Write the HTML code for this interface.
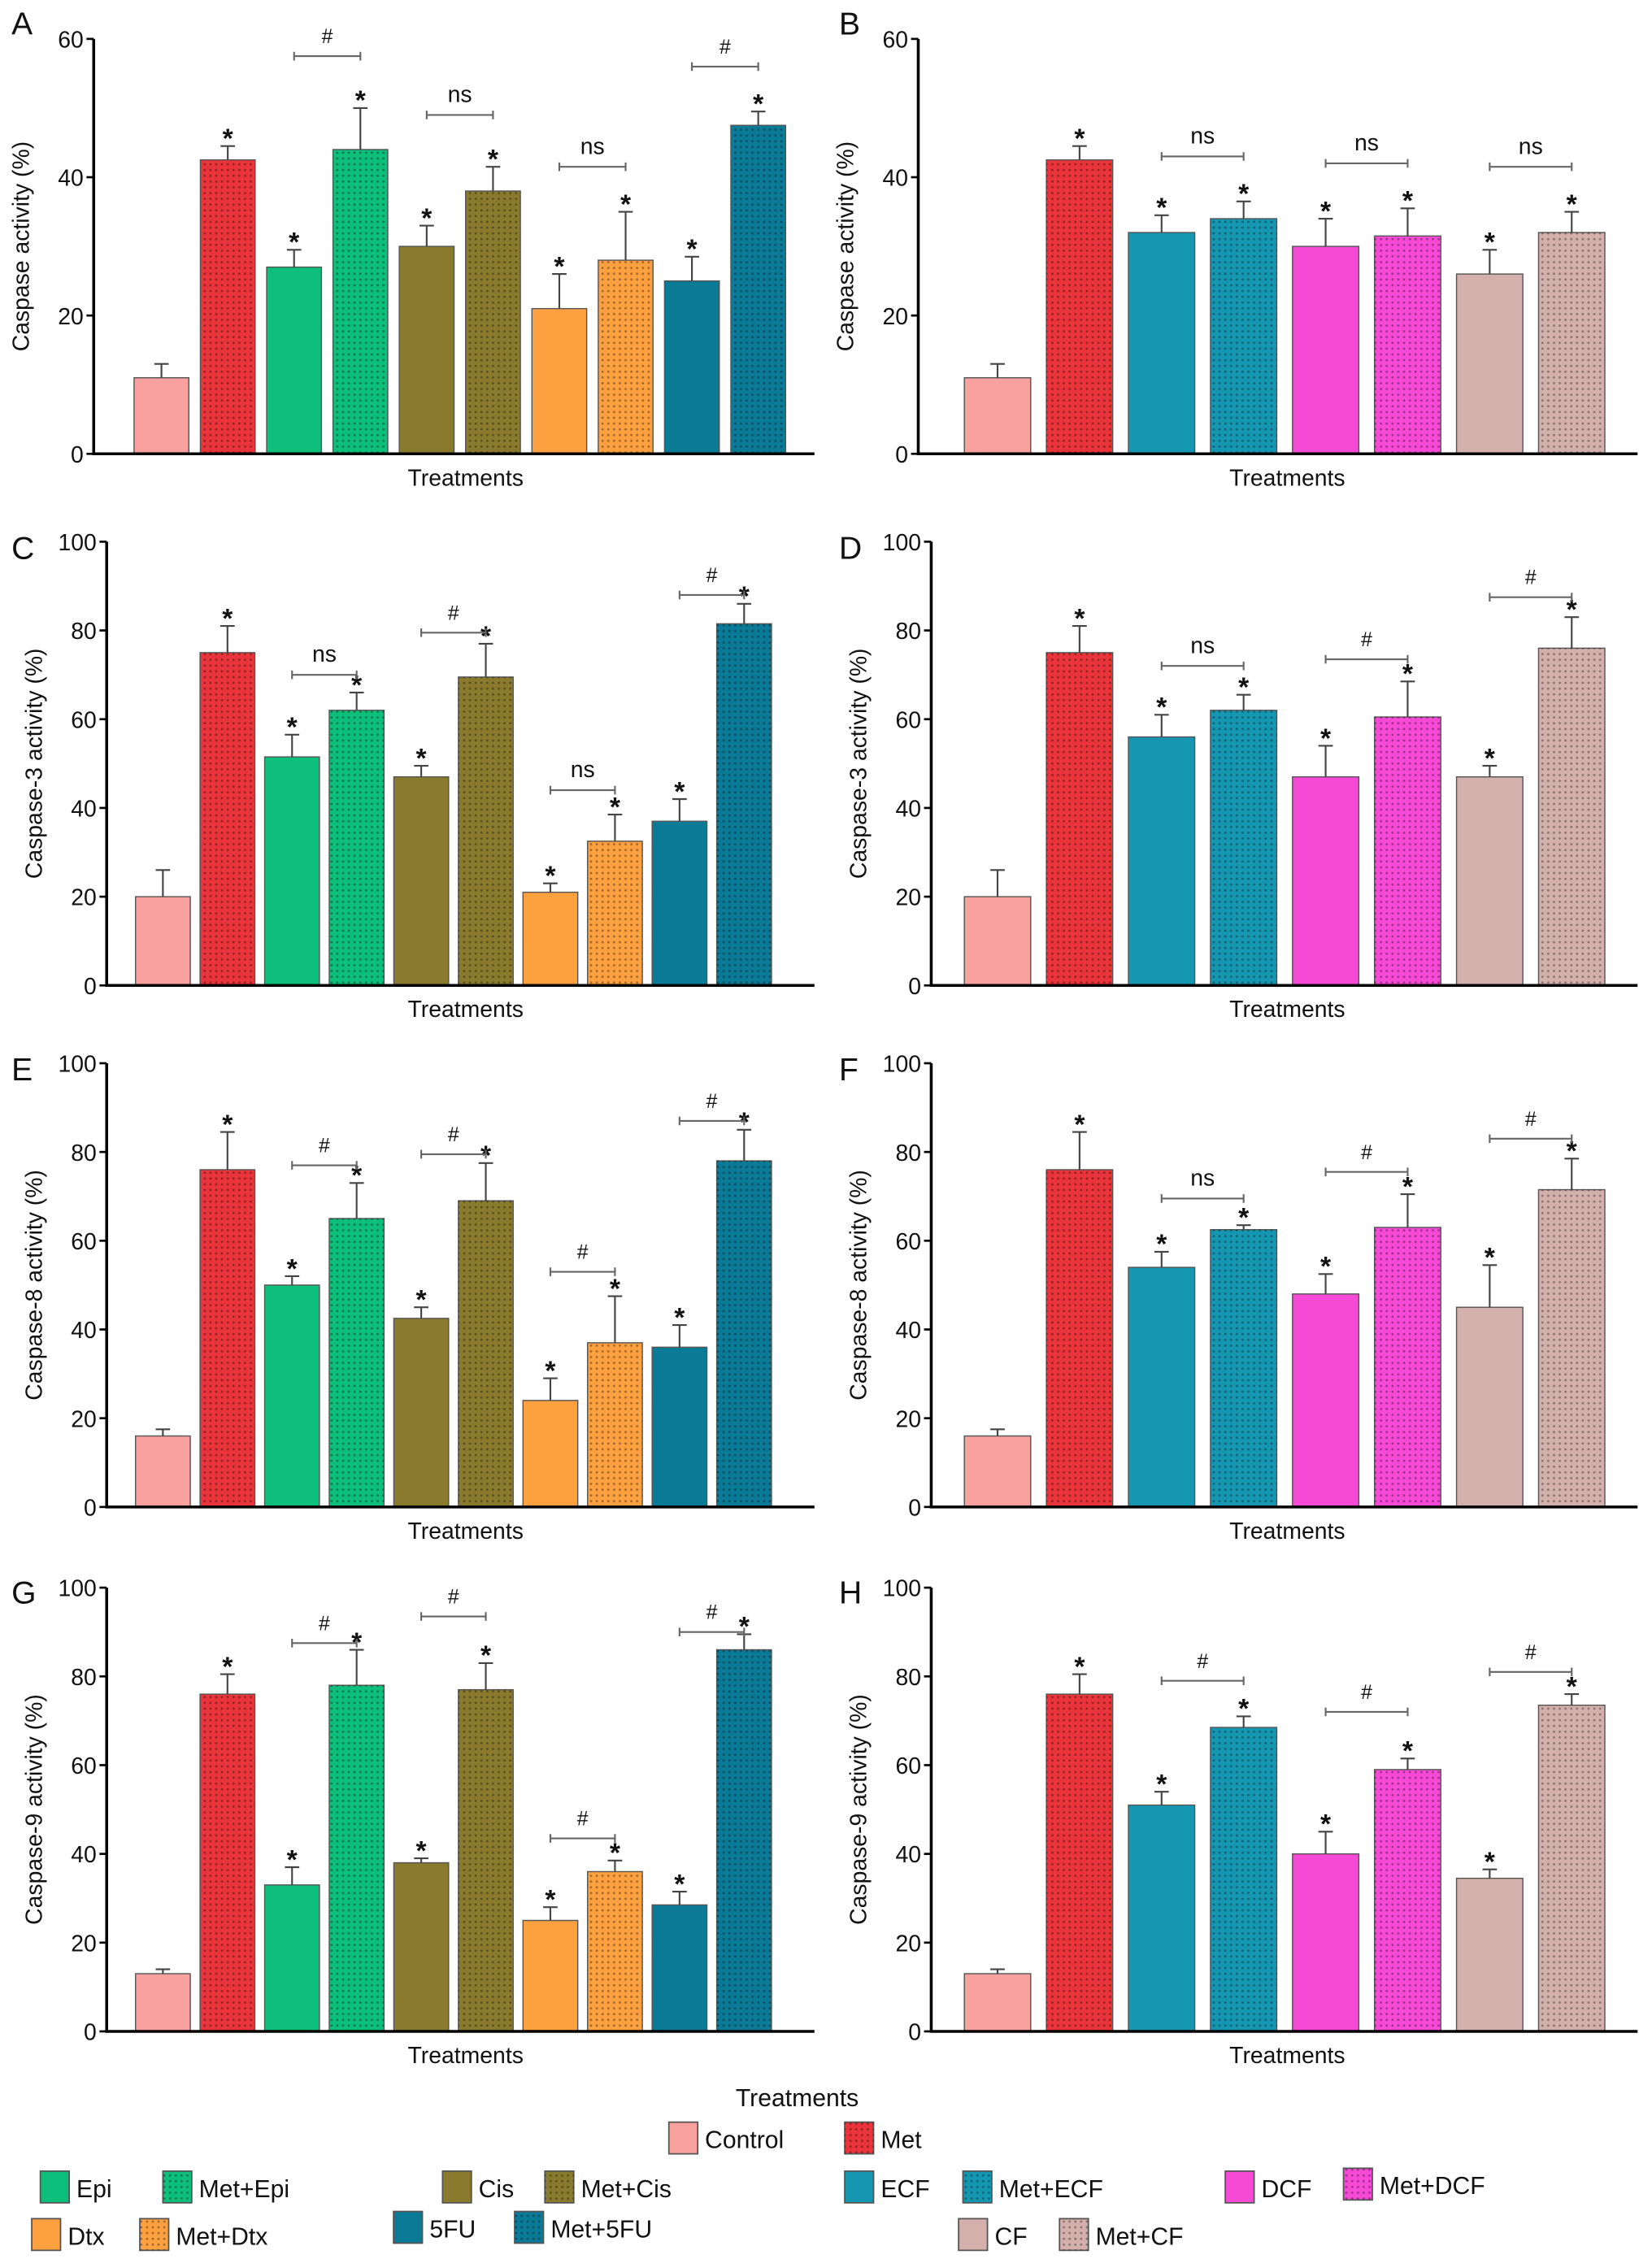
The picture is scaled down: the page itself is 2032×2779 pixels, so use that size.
<!DOCTYPE html>
<html><head><meta charset="utf-8">
<style>
html,body{margin:0;padding:0;background:#fff;}
svg{display:block;}
text{font-family:"Liberation Sans",sans-serif;fill:#111;}
</style></head>
<body>
<svg id="fig" width="2032" height="2779" viewBox="0 0 1146 1568" preserveAspectRatio="none" xmlns="http://www.w3.org/2000/svg">
<defs>
<pattern id="dots" width="4" height="4" patternUnits="userSpaceOnUse"><circle cx="2" cy="2" r="0.8" fill="rgba(0,0,0,0.35)"/></pattern>
</defs>
<g id="panels"></g>
<g id="legend"></g>
</svg>
<script>
const NS="http://www.w3.org/2000/svg";
// ---- data ----
const catsLeft=["Control","Met","Epi","Met+Epi","Cis","Met+Cis","Dtx","Met+Dtx","5FU","Met+5FU"];
const catsRight=["Control","Met","ECF","Met+ECF","DCF","Met+DCF","CF","Met+CF"];
const valsA=[11,42.5,27,44,30,38,21,28,25,47.5];
const errA=[13,44.5,29.5,50,33,41.5,26,35,28.5,49.5];
const valsB=[11,42.5,32,34,30,31.5,26,32];
const errB=[13,44.5,34.5,36.5,34,35.5,29.5,35];
const valsC=[20,75,51.5,62,47,69.5,21,32.5,37,81.5];
const errC=[26,81,56.5,66,49.5,77,23,38.5,42,86];
const valsD=[20,75,56,62,47,60.5,47,76];
const errD=[26,81,61,65.5,54,68.5,49.5,83];
const valsE=[16,76,50,65,42.5,69,24,37,36,78];
const errE=[17.5,84.5,52,73,45,77.5,29,47.5,41,85];
const valsF=[16,76,54,62.5,48,63,45,71.5];
const errF=[17.5,84.5,57.5,63.5,52.5,70.5,54.5,78.5];
const valsG=[13,76,33,78,38,77,25,36,28.5,86];
const errG=[14,80.5,37,86,39,83,28,38.5,31.5,89.5];
const valsH=[13,76,51,68.5,40,59,34.5,73.5];
const errH=[14,80.5,54,71,45,61.5,36.5,76];
const ticks60=[0,20,40,60];
const ticks100=[0,20,40,60,80,100];
// brackets: [fromIndex,toIndex,label,value]
const brA=[[2,3,"#",57.5],[4,5,"ns",49],[6,7,"ns",41.5],[8,9,"#",56]];
const brB=[[2,3,"ns",43],[4,5,"ns",42],[6,7,"ns",41.5]];
const brC=[[2,3,"ns",70],[4,5,"#",79.5],[6,7,"ns",44],[8,9,"#",88]];
const brD=[[2,3,"ns",72],[4,5,"#",73.5],[6,7,"#",87.5]];
const brE=[[2,3,"#",77],[4,5,"#",79.5],[6,7,"#",53],[8,9,"#",87]];
const brF=[[2,3,"ns",69.5],[4,5,"#",75.5],[6,7,"#",83]];
const brG=[[2,3,"#",87.5],[4,5,"#",93.5],[6,7,"#",43.5],[8,9,"#",90]];
const brH=[[2,3,"#",79],[4,5,"#",72],[6,7,"#",81]];
const stars=[false,true,true,true,true,true,true,true,true,true];

const colors={"Control":"#f9a19e","Met":"#e8343a","Epi":"#0dbf7a","Cis":"#8a7a2e","Dtx":"#fca040","5FU":"#0a7a96","ECF":"#1597b1","DCF":"#f64ad6","CF":"#d4b0ac"};
function col(c){return colors[c.replace("Met+","")]||colors[c];}
function dotted(c){return c==="Met"||c.startsWith("Met+");}

function el(tag,attrs,parent,txt){const e=document.createElementNS(NS,tag);for(const k in attrs)e.setAttribute(k,attrs[k]);if(txt!==undefined)e.textContent=txt;parent.appendChild(e);return e;}

const panelsG=document.getElementById('panels');
function panel(o){
  const g=el('g',{},panelsG);
  
  
  const yS=v=>o.y0-(v/o.max)*(o.y0-o.yTop);
  const xS=i=>o.c0+i*o.step;
  const L=el('text',{x:o.lx,y:o.ly,'font-size':22},g,o.letter);
  
  
  o.cats.forEach((c,i)=>{
    const x=xS(i)-o.bw/2,y=yS(o.vals[i]),h=o.y0-y;
    const bar=el('rect',{x:x,y:y,width:o.bw,height:h,fill:col(c),stroke:'#555','stroke-width':0.8},g);
    
    
    if(dotted(c)){el('rect',{x:x,y:y,width:o.bw,height:h,fill:'url(#dots)'},g);}
    const ye=yS(o.err[i]);
    const eb=el('path',{d:`M${xS(i)},${y}V${ye}M${xS(i)-5},${ye}H${xS(i)+5}`,stroke:'#444','stroke-width':1.2,fill:'none'},g);
    
    
    if(stars[i]){const s=el('text',{x:xS(i),y:ye+1,'font-size':19,'text-anchor':'middle','font-weight':'bold'},g,'*');
      
      }
  });
  o.br.forEach(b=>{
    const yb=yS(b[3]);const x1=xS(b[0]),x2=xS(b[1]);
    const p=el('path',{d:`M${x1},${yb-3}V${yb+3}M${x1},${yb}H${x2}M${x2},${yb-3}V${yb+3}`,stroke:'#666','stroke-width':1.2,fill:'none'},g);
    
    
    const t=el('text',{x:(x1+x2)/2,y:yb-9,'font-size':b[2]==='#'?14:16,'text-anchor':'middle'},g,b[2]);
    
    
  });
  const ax=el('path',{d:`M${o.ax},${o.yTop}V${o.y0}M${o.ax-1},${o.y0}H${o.xEnd}`,stroke:'#000','stroke-width':2,fill:'none'},g);
  
  
  o.ticks.forEach(t=>{
    el('path',{d:`M${o.ax-5},${yS(t)}H${o.ax}`,stroke:'#000','stroke-width':1.5},g);
    const tl=el('text',{x:o.ax-7,y:yS(t)+6,'font-size':16,'text-anchor':'end'},g,t);
    
    
  });
  const yt=el('text',{x:0,y:0,'font-size':16,'text-anchor':'middle',transform:`translate(${o.ax-45},${(o.y0+o.yTop)/2}) rotate(-90)`},g,o.ytitle);
  
  
  const xt=el('text',{x:o.xtx,y:o.y0+22,'font-size':16,'text-anchor':'middle'},g,'Treatments');
  
  
}
const L={cats:catsLeft,ax:67,c0:112,step:46,bw:38,xEnd:565,xtx:323};
const R={cats:catsRight,ax:639,c0:692,step:56.9,bw:46,xEnd:1136,xtx:893};
panel(Object.assign({},L,{letter:'A',lx:8,ly:24,vals:valsA,err:errA,br:brA,ticks:ticks60,max:60,y0:315,yTop:27,ytitle:'Caspase activity (%)',ax:65}));
panel(Object.assign({},R,{letter:'B',lx:582,ly:24,vals:valsB,err:errB,br:brB,ticks:ticks60,max:60,y0:315,yTop:27,ytitle:'Caspase activity (%)',ax:637}));
panel(Object.assign({},L,{letter:'C',lx:8,ly:388,vals:valsC,err:errC,br:brC,ticks:ticks100,max:100,y0:684,yTop:376,ytitle:'Caspase-3 activity (%)',c0:113,step:44.8,ax:74}));
panel(Object.assign({},R,{letter:'D',lx:582,ly:388,vals:valsD,err:errD,br:brD,ticks:ticks100,max:100,y0:684,yTop:376,ytitle:'Caspase-3 activity (%)',ax:646}));
panel(Object.assign({},L,{letter:'E',lx:8,ly:750,vals:valsE,err:errE,br:brE,ticks:ticks100,max:100,y0:1046,yTop:738,ytitle:'Caspase-8 activity (%)',c0:113,step:44.8,ax:74}));
panel(Object.assign({},R,{letter:'F',lx:582,ly:750,vals:valsF,err:errF,br:brF,ticks:ticks100,max:100,y0:1046,yTop:738,ytitle:'Caspase-8 activity (%)',ax:646}));
panel(Object.assign({},L,{letter:'G',lx:8,ly:1113,vals:valsG,err:errG,br:brG,ticks:ticks100,max:100,y0:1410,yTop:1102,ytitle:'Caspase-9 activity (%)',c0:113,step:44.8,ax:74}));
panel(Object.assign({},R,{letter:'H',lx:582,ly:1113,vals:valsH,err:errH,br:brH,ticks:ticks100,max:100,y0:1410,yTop:1102,ytitle:'Caspase-9 activity (%)',ax:646}));

const lg=document.getElementById('legend');
const lt=el('text',{x:553,y:1462,'font-size':17,'text-anchor':'middle'},lg,'Treatments');


const legendItems=[["Control",464,1473],["Met",586,1473],["Epi",28,1507],["Met+Epi",113,1507],["Cis",307,1507],["Met+Cis",378,1507],["ECF",586,1507],["Met+ECF",668,1507],["DCF",850,1507],["Met+DCF",932,1505],["Dtx",22,1540],["Met+Dtx",97,1540],["5FU",273,1535],["Met+5FU",357,1535],["CF",665,1540],["Met+CF",735,1540]];
legendItems.forEach(it=>{
  const [c,x,y]=it;
  const g=el('g',{},lg);
  
  
  el('rect',{x:x,y:y,width:20,height:22,fill:col(c),stroke:'#555','stroke-width':1},g);
  if(dotted(c))el('rect',{x:x,y:y,width:20,height:22,fill:'url(#dots)'},g);
  el('text',{x:x+25,y:y+18,'font-size':17},g,c);
});
</script>
</body></html>
